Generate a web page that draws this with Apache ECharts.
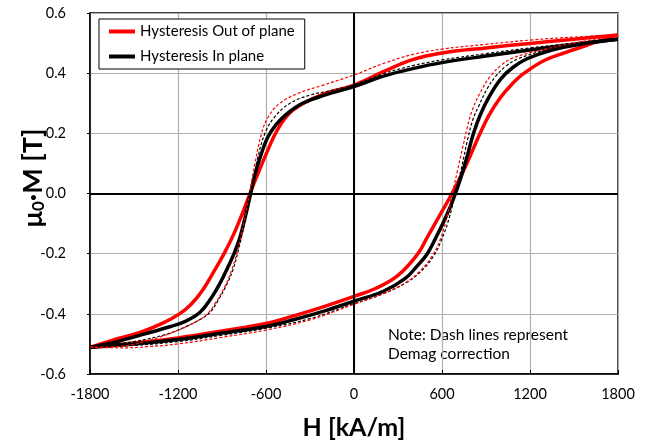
<!DOCTYPE html>
<html>
<head>
<meta charset="utf-8">
<script src="https://cdn.jsdelivr.net/npm/echarts@6/dist/echarts.min.js"></script>
<style>
  html, body { margin: 0; padding: 0; background: #fff; }
  #Map { width: 647px; height: 445px; }
</style>
</head>
<body>
<div id="Map"></div>
<script>
// axis ticks
var xTicks = [-1800, -1200, -600, 0, 600, 1200, 1800];
var yTicks = [-0.6, -0.4, -0.2, 0.0, 0.2, 0.4, 0.6];

// Out of plane, measured (red solid): [H, M]
var outDown = [[1800,0.527],[1500,0.513],[1200,0.499],[900,0.484],[600,0.467],[400,0.445],[200,0.405],[0,0.36],
  [-200,0.332],[-350,0.298],[-450,0.262],[-530,0.205],[-600,0.13],[-660,0.06],[-709,0.0],[-760,-0.065],
  [-820,-0.135],[-886,-0.20],[-950,-0.255],[-1030,-0.32],[-1110,-0.368],[-1190,-0.40],[-1300,-0.43],
  [-1450,-0.46],[-1650,-0.488],[-1800,-0.511]];
var outUp = [[-1800,-0.511],[-1500,-0.497],[-1200,-0.48],[-900,-0.457],[-600,-0.432],[-400,-0.405],[-200,-0.375],
  [0,-0.342],[150,-0.315],[300,-0.272],[430,-0.204],[500,-0.145],[570,-0.085],[640,-0.025],[700,0.03],
  [760,0.09],[810,0.145],[860,0.20],[920,0.26],[1000,0.32],[1080,0.365],[1160,0.40],[1300,0.443],
  [1450,0.47],[1600,0.495],[1800,0.527]];

// In plane, measured (black solid)
var inDown = [[1800,0.513],[1500,0.496],[1200,0.477],[900,0.457],[600,0.435],[400,0.415],[200,0.39],[0,0.355],
  [-200,0.327],[-350,0.30],[-450,0.268],[-530,0.23],[-590,0.185],[-640,0.12],[-680,0.055],[-705,0.0],
  [-740,-0.075],[-780,-0.15],[-818,-0.20],[-860,-0.245],[-910,-0.295],[-970,-0.345],[-1050,-0.395],
  [-1150,-0.425],[-1250,-0.442],[-1450,-0.47],[-1650,-0.497],[-1800,-0.511]];
var inUp = [[-1800,-0.511],[-1500,-0.50],[-1200,-0.485],[-900,-0.464],[-600,-0.442],[-400,-0.418],[-200,-0.39],
  [0,-0.358],[200,-0.325],[350,-0.282],[427,-0.243],[500,-0.20],[560,-0.145],[620,-0.085],[680,-0.015],
  [730,0.055],[775,0.13],[815,0.20],[860,0.26],[920,0.32],[1000,0.38],[1080,0.418],[1180,0.448],
  [1350,0.477],[1550,0.497],[1800,0.513]];

// Demag corrected (dashed)
var outDemagDown = [[1800,0.527],[1500,0.52],[1200,0.51],[900,0.496],[600,0.48],[400,0.462],[200,0.432],[0,0.394],
  [-232,0.357],[-380,0.333],[-505,0.30],[-584,0.255],[-630,0.20],[-675,0.10],[-712,0.0],[-752,-0.10],
  [-800,-0.20],[-840,-0.262],[-890,-0.318],[-950,-0.368],[-1010,-0.405],[-1100,-0.432],[-1200,-0.455],
  [-1390,-0.487],[-1575,-0.507],[-1800,-0.511]];
var outDemagUp = [[-1800,-0.511],[-1570,-0.513],[-1400,-0.509],[-1200,-0.50],[-900,-0.478],[-600,-0.454],
  [-300,-0.42],[0,-0.368],[200,-0.333],[350,-0.297],[450,-0.258],[530,-0.21],[590,-0.15],[635,-0.075],
  [670,0.0],[705,0.075],[740,0.15],[770,0.215],[805,0.275],[860,0.335],[930,0.39],[1000,0.425],
  [1080,0.45],[1250,0.474],[1500,0.50],[1800,0.527]];
var inDemagDown = [[1800,0.515],[1500,0.50],[1200,0.484],[900,0.465],[600,0.444],[400,0.425],[200,0.398],[0,0.362],
  [-150,0.343],[-300,0.327],[-436,0.30],[-540,0.255],[-607,0.20],[-660,0.11],[-703,0.0],[-745,-0.095],
  [-789,-0.19],[-823,-0.25],[-860,-0.295],[-925,-0.354],[-982,-0.395],[-1060,-0.422],[-1150,-0.443],
  [-1280,-0.468],[-1500,-0.492],[-1800,-0.511]];
var inDemagUp = [[-1800,-0.511],[-1500,-0.505],[-1200,-0.492],[-900,-0.471],[-600,-0.448],[-300,-0.416],[0,-0.366],
  [200,-0.333],[350,-0.298],[450,-0.262],[540,-0.21],[600,-0.15],[650,-0.08],[690,0.0],[735,0.09],[775,0.18],
  [810,0.245],[850,0.29],[910,0.35],[970,0.392],[1040,0.425],[1120,0.448],[1300,0.476],[1500,0.497],[1800,0.515]];

var RED = '#ff0000', BLACK = '#000000';
var FONT = 'Lato';

function branch(name, data, color, width, dashed) {
  return {
    name: name,
    type: 'line',
    data: data,
    smooth: 0.4,
    symbol: 'none',
    silent: true,
    lineStyle: { color: color, width: width, type: dashed ? [3, 2] : 'solid' },
    itemStyle: { color: color }
  };
}

var myChart = echarts.init(document.getElementById('Map'));

var series = [
  branch('Hysteresis Out of plane', outDown, RED, 3.5, false),
  branch('Hysteresis Out of plane', outUp, RED, 3.5, false),
  branch('Hysteresis In plane', inDown, BLACK, 3.5, false),
  branch('Hysteresis In plane', inUp, BLACK, 3.5, false),
  branch('Demag In plane', inDemagDown, BLACK, 1.2, true),
  branch('Demag In plane', inDemagUp, BLACK, 1.2, true),
  branch('Demag Out of plane', outDemagDown, RED, 1.2, true),
  branch('Demag Out of plane', outDemagUp, RED, 1.2, true)
];
// zero lines
series[0].markLine = {
  silent: true,
  symbol: ['none', 'none'],
  label: { show: false },
  lineStyle: { color: '#000', width: 2, type: 'solid' },
  data: [{ xAxis: 0 }, { yAxis: 0 }]
};

var option = {
  animation: false,
  backgroundColor: '#fff',
  grid: { left: 90, right: 29, top: 13, bottom: 71, show: true, borderColor: '#000', borderWidth: 1.5 },
  legend: {
    data: ['Hysteresis Out of plane', 'Hysteresis In plane'],
    orient: 'vertical',
    left: 99,
    top: 19,
    padding: [5, 10, 5, 10],
    itemGap: 10,
    itemWidth: 26,
    itemHeight: 4,
    icon: 'rect',
    backgroundColor: '#fff',
    borderColor: '#000',
    borderWidth: 1,
    textStyle: { fontFamily: FONT, fontSize: 15, color: '#000' }
  },
  xAxis: {
    type: 'value',
    min: -1800,
    max: 1800,
    interval: 600,
    name: 'H [kA/m]',
    nameLocation: 'middle',
    nameGap: 41,
    nameTextStyle: { fontFamily: FONT, fontSize: 25, fontWeight: 'bold', color: '#000' },
    axisLine: { onZero: false, lineStyle: { color: '#000', width: 1.5 } },
    axisTick: { show: true, inside: true, length: 4, lineStyle: { color: '#000' } },
    axisLabel: { margin: 13, fontFamily: FONT, fontSize: 14.5, color: '#000',
      formatter: function (v) { return xTicks.indexOf(v) >= 0 ? String(v) : ''; } },
    splitLine: { show: true, lineStyle: { color: '#b0b0b0', width: 1.2 } }
  },
  yAxis: {
    type: 'value',
    min: -0.6,
    max: 0.6,
    interval: 0.2,
    axisLine: { onZero: false, lineStyle: { color: '#000', width: 1.5 } },
    axisTick: { show: true, length: 3, lineStyle: { color: '#000' } },
    axisLabel: { margin: 24, fontFamily: FONT, fontSize: 14.5, color: '#000',
      formatter: function (v) {
        var t = yTicks.filter(function (y) { return Math.abs(y - v) < 1e-6; })[0];
        return t === undefined ? '' : t.toFixed(1);
      } },
    splitLine: { show: true, lineStyle: { color: '#b0b0b0', width: 1.2 } }
  },
  graphic: [
    {
      type: 'text',
      x: 31,
      y: 178,
      rotation: Math.PI / 2,
      style: {
        text: '{a|μ}{s|0}{a|·M [T]}',
        align: 'center',
        verticalAlign: 'middle',
        fill: '#000',
        rich: {
          a: { fontFamily: FONT, fontSize: 27, fontWeight: 'bold', lineHeight: 32, verticalAlign: 'bottom' },
          s: { fontFamily: FONT, fontSize: 17, fontWeight: 'bold', lineHeight: 24, verticalAlign: 'bottom' }
        }
      }
    },
    {
      type: 'text',
      left: 388,
      top: 325,
      style: {
        text: 'Note: Dash lines represent\nDemag correction',
        fontFamily: FONT,
        fontSize: 15.5,
        lineHeight: 19,
        fill: '#000'
      }
    }
  ],
  series: series
};

myChart.setOption(option);
</script>
</body>
</html>
